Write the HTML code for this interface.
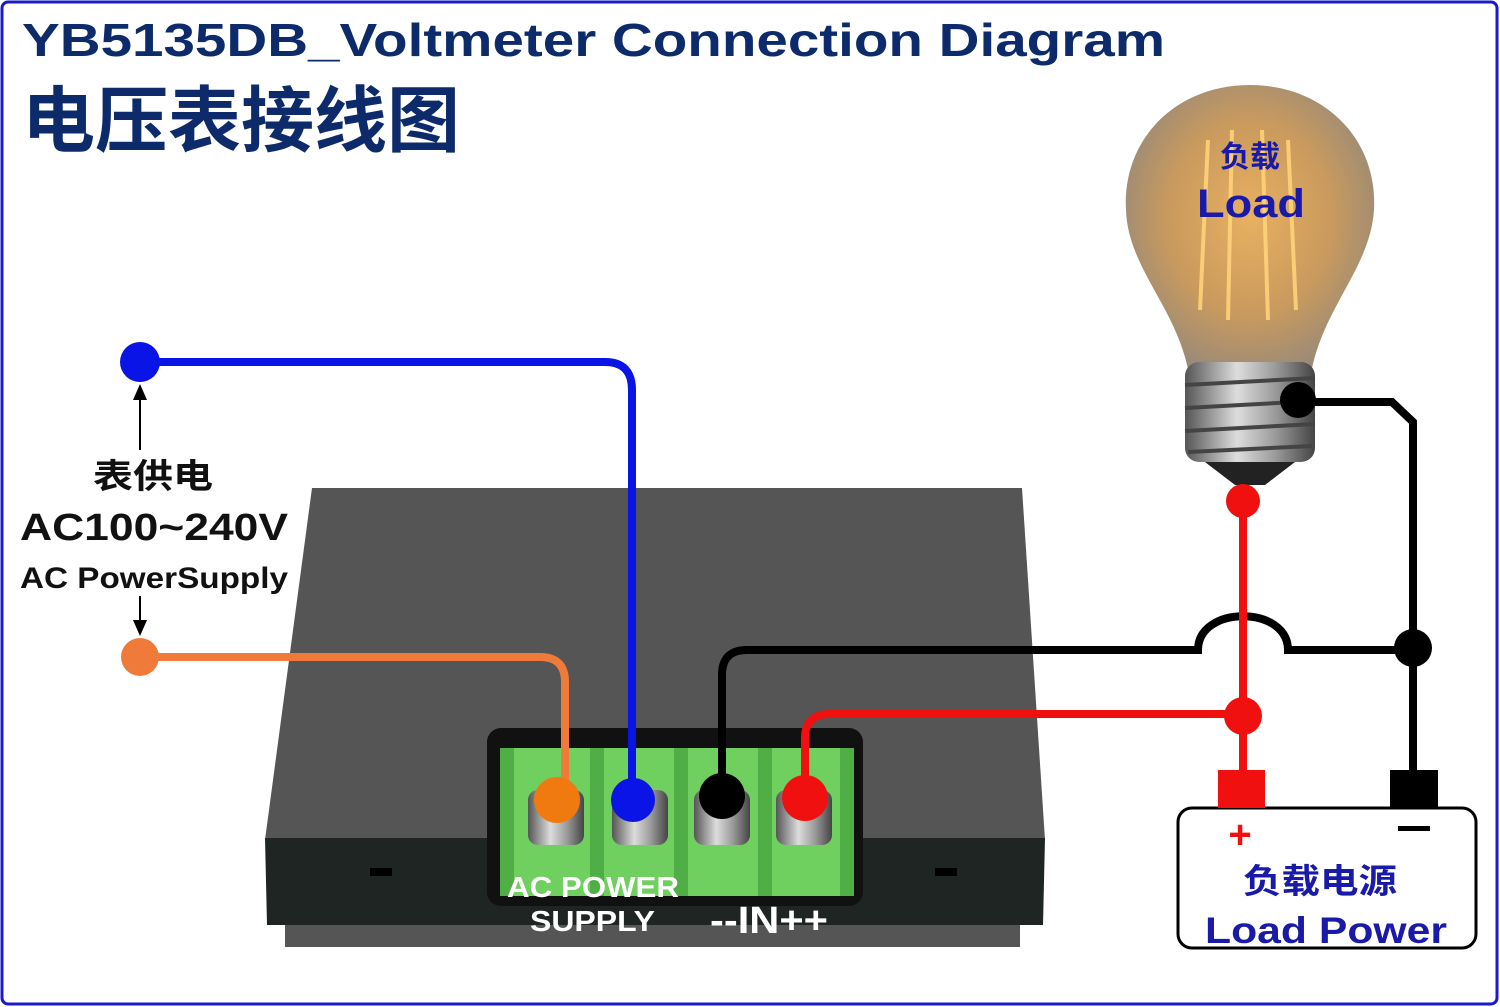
<!DOCTYPE html>
<html><head><meta charset="utf-8"><style>
html,body{margin:0;padding:0;background:#fff;}
svg{display:block}
text{font-family:"Liberation Sans","Noto Sans CJK SC",sans-serif;font-weight:bold}
</style></head><body>
<svg width="1500" height="1007" viewBox="0 0 1500 1007" xmlns="http://www.w3.org/2000/svg">
<defs>
<radialGradient id="bulb" cx="50%" cy="45%" r="55%">
<stop offset="0" stop-color="#e8b060"/><stop offset="0.6" stop-color="#c99a5e"/><stop offset="1" stop-color="#9a8a78"/>
</radialGradient>
<linearGradient id="screw" x1="0" x2="1">
<stop offset="0" stop-color="#555"/><stop offset="0.4" stop-color="#ddd"/><stop offset="0.7" stop-color="#999"/><stop offset="1" stop-color="#444"/>
</linearGradient>
</defs>
<rect x="2" y="2" width="1495" height="1002" fill="#fff" stroke="#1a1acc" stroke-width="3" rx="6"/>
<text x="22" y="56" font-size="46" fill="#0d2b6b" textLength="1143" lengthAdjust="spacingAndGlyphs">YB5135DB_Voltmeter Connection Diagram</text>
<text x="22" y="146" font-size="72" fill="#0d2b6b" textLength="438" lengthAdjust="spacingAndGlyphs">电压表接线图</text>

<!-- meter box -->
<polygon points="285,900 1020,900 1020,947 285,947" fill="#555"/>
<polygon points="312,488 1022,488 1045,840 265,840" fill="#555"/>
<polygon points="265,838 1045,838 1043,925 267,925" fill="#1f2523"/>
<rect x="370" y="868" width="22" height="8" fill="#000"/>
<rect x="935" y="868" width="22" height="8" fill="#000"/>
<!-- terminal block -->
<rect x="487" y="728" width="376" height="178" rx="14" fill="#111"/>
<rect x="500" y="748" width="354" height="148" fill="#6fcf5f"/>
<g fill="#4fae45">
<rect x="500" y="748" width="14" height="148"/><rect x="590" y="748" width="14" height="148"/><rect x="674" y="748" width="14" height="148"/><rect x="758" y="748" width="14" height="148"/><rect x="840" y="748" width="14" height="148"/>
</g>
<g fill="url(#screw)">
<rect x="528" y="790" width="56" height="55" rx="10"/><rect x="612" y="790" width="56" height="55" rx="10"/><rect x="694" y="790" width="56" height="55" rx="10"/><rect x="776" y="790" width="56" height="55" rx="10"/>
</g>
<text x="507" y="897" font-size="29" fill="#fff" textLength="172" lengthAdjust="spacingAndGlyphs">AC POWER</text>
<text x="530" y="931" font-size="29" fill="#fff" textLength="125" lengthAdjust="spacingAndGlyphs">SUPPLY</text>
<text x="710" y="933" font-size="38" fill="#fff" textLength="118" lengthAdjust="spacingAndGlyphs">--IN++</text>

<!-- bulb -->
<path d="M1250,85 C1325,85 1378,140 1374,210 C1370,270 1320,310 1310,380 L1190,380 C1180,310 1128,270 1126,210 C1122,140 1175,85 1250,85 Z" fill="url(#bulb)"/>
<g stroke="#ffd27a" stroke-width="4" fill="none" opacity="0.9">
<path d="M1208,140 L1200,310"/><path d="M1232,130 L1228,320"/><path d="M1262,130 L1268,320"/><path d="M1288,140 L1296,310"/>
</g>
<rect x="1185" y="362" width="130" height="100" rx="14" fill="url(#screw)"/>
<g stroke="#444" stroke-width="4"><line x1="1185" y1="385" x2="1315" y2="378"/><line x1="1185" y1="408" x2="1315" y2="401"/><line x1="1185" y1="431" x2="1315" y2="424"/><line x1="1188" y1="452" x2="1312" y2="446"/></g>
<polygon points="1205,462 1295,462 1265,485 1235,485" fill="#222"/>
<text x="1250" y="167" font-size="30" fill="#1a1aa8" text-anchor="middle">负载</text>
<text x="1197" y="217" font-size="40" fill="#1a1aa8" textLength="108" lengthAdjust="spacingAndGlyphs">Load</text>

<!-- wires -->
<g fill="none" stroke-width="8" stroke-linecap="round">
<path d="M140,362 L605,362 Q632,362 632,390 L632,800" stroke="#0a14e6"/>
<path d="M140,657 L540,657 Q565,657 565,682 L565,800" stroke="#f07a3a"/>
<path d="M722,800 L722,675 Q722,650 747,650 L1198,650 C1198,605 1288,605 1288,650 L1413,650" stroke="#000"/>
<path d="M1298,402 L1392,402 L1413,422 L1413,780" stroke="#000"/>
<path d="M805,800 L805,738 Q805,714 830,714 L1243,714" stroke="#f01010"/>
<path d="M1243,500 L1243,780" stroke="#f01010"/>
</g>
<circle cx="140" cy="362" r="20" fill="#0a14e6"/>
<circle cx="140" cy="657" r="19" fill="#f07a3a"/>
<circle cx="557" cy="800" r="23" fill="#f07a10"/>
<circle cx="633" cy="800" r="22" fill="#0a14e6"/>
<circle cx="722" cy="796" r="23" fill="#000"/>
<circle cx="805" cy="798" r="23" fill="#f01010"/>
<circle cx="1298" cy="400" r="18" fill="#000"/>
<circle cx="1243" cy="501" r="17" fill="#f01010"/>
<circle cx="1413" cy="648" r="19" fill="#000"/>
<circle cx="1243" cy="716" r="19" fill="#f01010"/>

<!-- arrows & labels -->
<g stroke="#000" stroke-width="2"><line x1="140" y1="392" x2="140" y2="450"/><line x1="140" y1="596" x2="140" y2="628"/></g>
<polygon points="140,384 133,400 147,400" fill="#000"/>
<polygon points="140,636 133,620 147,620" fill="#000"/>
<text x="93" y="488" font-size="34" fill="#111" textLength="120" lengthAdjust="spacingAndGlyphs">表供电</text>
<text x="20" y="540" font-size="38" fill="#111" textLength="268" lengthAdjust="spacingAndGlyphs">AC100~240V</text>
<text x="20" y="588" font-size="30" fill="#111" textLength="268" lengthAdjust="spacingAndGlyphs">AC PowerSupply</text>

<!-- load power battery -->
<rect x="1178" y="808" width="298" height="140" rx="14" fill="#fff" stroke="#000" stroke-width="3"/>
<rect x="1218" y="770" width="47" height="38" fill="#f01010"/>
<rect x="1390" y="770" width="48" height="38" fill="#000"/>
<text x="1240" y="848" font-size="40" fill="#f01010" text-anchor="middle">+</text>
<rect x="1398" y="826" width="32" height="5" fill="#000"/>
<text x="1243" y="893" font-size="34" fill="#1a1aa8" textLength="154" lengthAdjust="spacingAndGlyphs">负载电源</text>
<text x="1205" y="943" font-size="37" fill="#1a1aa8" textLength="242" lengthAdjust="spacingAndGlyphs">Load Power</text>
</svg>
</body></html>
